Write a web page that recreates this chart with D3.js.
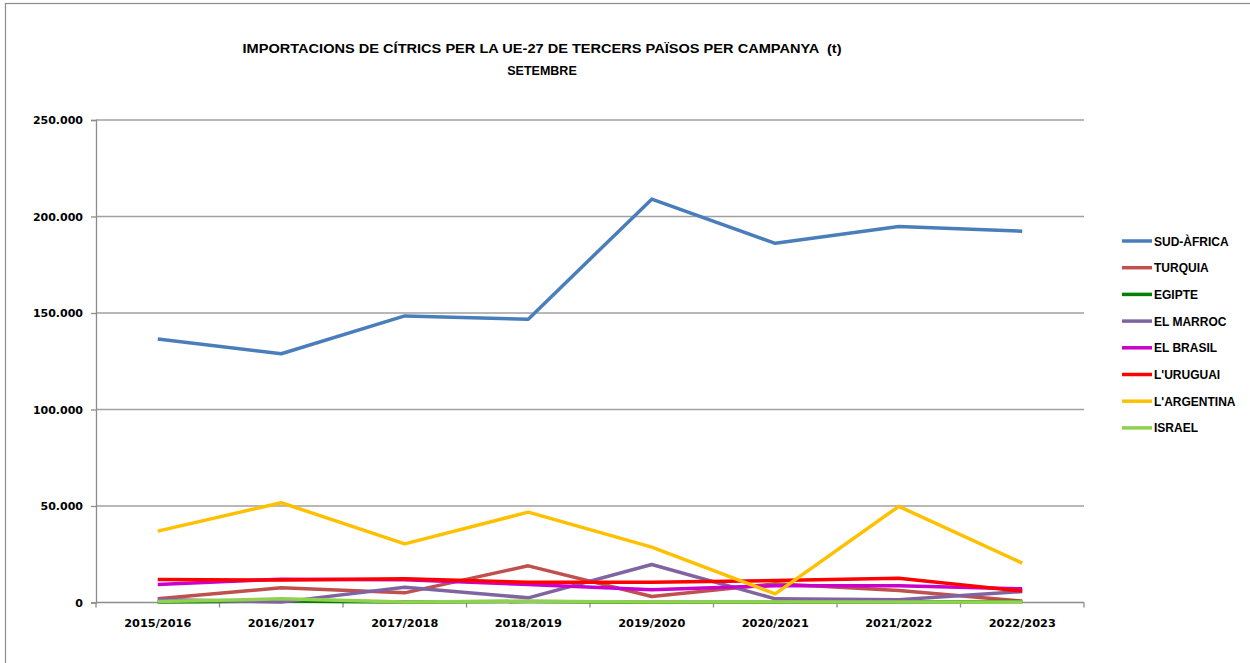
<!DOCTYPE html>
<html>
<head>
<meta charset="utf-8">
<script src="https://cdn.jsdelivr.net/npm/d3@7"></script>
<style>
  body { margin: 0; background: #fff; }
  svg { display: block; }
</style>
</head>
<body>
<svg id="chart" width="1250" height="663"></svg>
<script>
// campaigns (x categories)
const campaigns = ['2015/2016', '2016/2017', '2017/2018', '2018/2019', '2019/2020', '2020/2021', '2021/2022', '2022/2023'];

// series names and values (tonnes)
const seriesNames = ['SUD-ÀFRICA', 'TURQUIA', 'EGIPTE', 'EL MARROC', 'EL BRASIL', "L'URUGUAI", "L'ARGENTINA", 'ISRAEL'];
const sudAfrica  = [136500, 128900, 148500, 146800, 209000, 186100, 194800, 192400];
const turquia    = [1900, 7600, 5000, 19000, 3100, 9700, 6200, 700];
const egipte     = [300, 800, 200, 500, 100, 100, 200, 500];
const marroc     = [1600, 200, 7900, 2400, 19700, 1900, 1400, 5700];
const brasil     = [9300, 12100, 11800, 9300, 6600, 8700, 8700, 7100];
const uruguai    = [11900, 11600, 12300, 10500, 10500, 11400, 12600, 5900];
const argentina  = [37000, 51700, 30400, 46800, 28700, 4500, 49800, 20400];
const israel     = [500, 1900, 200, 700, 200, 300, 300, 300];

const yTicks = [0, 50000, 100000, 150000, 200000, 250000];
const colors = ['#4a7ebb', '#c0504d', '#008000', '#8064a2', '#cc00cc', '#ff0000', '#ffc000', '#92d050'];

const allValues = [sudAfrica, turquia, egipte, marroc, brasil, uruguai, argentina, israel];
const series = seriesNames.map((name, i) => ({ name: name, values: allValues[i], color: colors[i] }));

const svg = d3.select('#chart');
const plotLeft = 96, plotRight = 1084, plotTop = 120, plotBottom = 602.5;

// outer chart border
svg.append('rect')
    .attr('x', 5.5).attr('y', 3.5)
    .attr('width', 1270).attr('height', 680)
    .attr('fill', 'none')
    .attr('stroke', '#8c8c8c')
    .attr('stroke-width', 1.2);

const x = d3.scaleBand().domain(campaigns).range([plotLeft, plotRight]).padding(0);
const y = d3.scaleLinear().domain([0, 250000]).range([plotBottom, plotTop]);

const fmt = d => d === 0 ? '0' : d3.format(',')(d).replace(/,/g, '.');

// gridlines
svg.append('g')
    .selectAll('line')
    .data(yTicks.filter(d => d > 0))
    .enter()
    .append('line')
    .attr('x1', plotLeft).attr('x2', plotRight)
    .attr('y1', d => y(d)).attr('y2', d => y(d))
    .attr('stroke', '#a0a0a0')
    .attr('stroke-width', 1.3);

// y axis
const yAxis = svg.append('g')
    .attr('transform', `translate(${plotLeft},0)`)
    .call(d3.axisLeft(y).tickValues(yTicks).tickFormat(fmt).tickSize(5).tickPadding(8));
yAxis.select('.domain').attr('stroke', '#8c8c8c').attr('stroke-width', 1.3);
yAxis.selectAll('.tick line').attr('stroke', '#8c8c8c').attr('stroke-width', 1.3);
yAxis.selectAll('text')
    .attr('font-family', 'DejaVu Sans, Verdana, sans-serif')
    .attr('font-weight', 'bold')
    .attr('font-size', '11px')
    .attr('fill', '#000');

// x axis: ticks at band boundaries
const xAxis = svg.append('g').attr('transform', `translate(0,${plotBottom})`);
xAxis.append('line')
    .attr('x1', plotLeft).attr('x2', plotRight)
    .attr('stroke', '#8c8c8c').attr('stroke-width', 1.3);
const boundaries = campaigns.map(c => x(c)).concat([plotRight]);
xAxis.selectAll('line.tk')
    .data(boundaries)
    .enter()
    .append('line')
    .attr('class', 'tk')
    .attr('x1', d => d).attr('x2', d => d)
    .attr('y1', 0).attr('y2', 5)
    .attr('stroke', '#8c8c8c').attr('stroke-width', 1.3);
xAxis.selectAll('text')
    .data(campaigns)
    .enter()
    .append('text')
    .attr('x', d => x(d) + x.bandwidth() / 2)
    .attr('y', 24)
    .attr('text-anchor', 'middle')
    .attr('font-family', 'DejaVu Sans, Verdana, sans-serif')
    .attr('font-weight', 'bold')
    .attr('font-size', '11.3px')
    .text(d => d);

// lines
const line = d3.line()
    .x((d, i) => x(campaigns[i]) + x.bandwidth() / 2)
    .y(d => y(d));

svg.append('g')
    .selectAll('path')
    .data(series)
    .enter()
    .append('path')
    .attr('d', d => line(d.values))
    .attr('fill', 'none')
    .attr('stroke', d => d.color)
    .attr('stroke-width', 3.5)
    .attr('stroke-linejoin', 'round');

// title
svg.append('text')
    .attr('x', 542).attr('y', 53)
    .attr('text-anchor', 'middle')
    .attr('font-family', 'Liberation Sans, Arial, sans-serif')
    .attr('font-weight', 'bold')
    .attr('font-size', '13.5px')
    .attr('textLength', 599)
    .attr('lengthAdjust', 'spacingAndGlyphs')
    .attr('xml:space', 'preserve')
    .text('IMPORTACIONS DE CÍTRICS PER LA UE-27 DE TERCERS PAÏSOS PER CAMPANYA  (t)');
svg.append('text')
    .attr('x', 542).attr('y', 75)
    .attr('text-anchor', 'middle')
    .attr('font-family', 'Liberation Sans, Arial, sans-serif')
    .attr('font-weight', 'bold')
    .attr('font-size', '12.5px')
    .text('SETEMBRE');

// legend
const legend = svg.append('g')
    .selectAll('g')
    .data(series)
    .enter()
    .append('g')
    .attr('transform', (d, i) => `translate(1122,${241 + i * 26.7})`);
legend.append('line')
    .attr('x1', 0).attr('x2', 30)
    .attr('stroke', d => d.color)
    .attr('stroke-width', 3.5);
legend.append('text')
    .attr('x', 32).attr('y', 4.5)
    .attr('font-family', 'Liberation Sans, Arial, sans-serif')
    .attr('font-weight', 'bold')
    .attr('font-size', '12px')
    .text(d => d.name);
</script>
</body>
</html>
